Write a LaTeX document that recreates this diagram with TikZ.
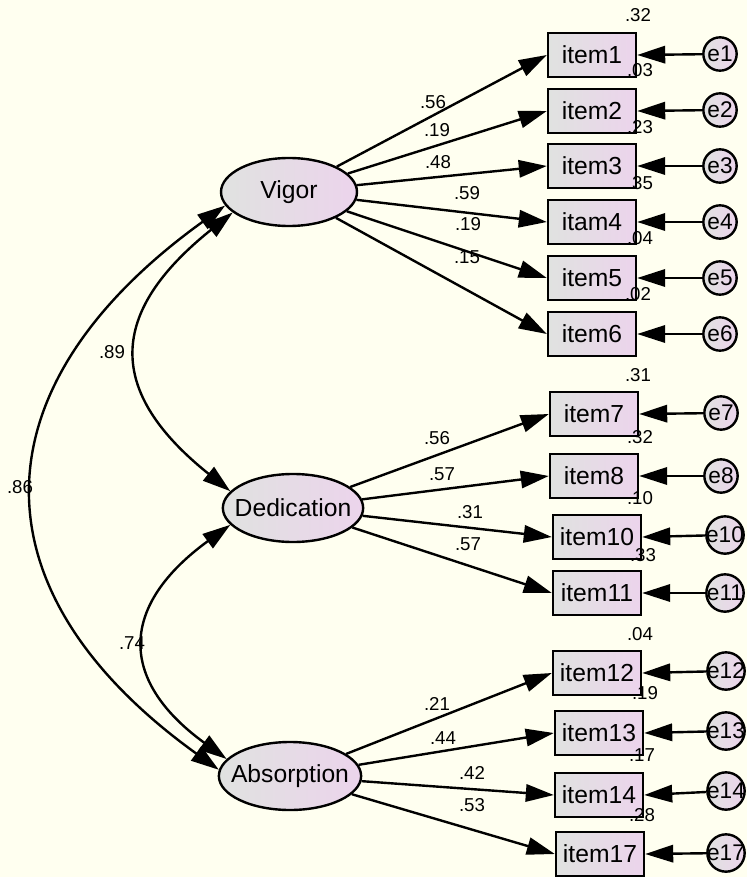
\documentclass[tikz,border=0pt]{standalone}
\usepackage{fontspec}
\setmainfont{Liberation Sans}
\usetikzlibrary{arrows.meta,shapes.geometric}

\definecolor{bgcol}{HTML}{FFFFF0}
\definecolor{shadeL}{HTML}{E0E2E0}
\definecolor{shadeR}{HTML}{ECD4EC}

\begin{document}
\begin{tikzpicture}[x=0.75pt, y=-0.75pt,
    lat/.style={draw, ellipse, line width=1.8pt, left color=shadeL, right color=shadeR, minimum width=102pt, minimum height=51pt, inner xsep=-6.5pt, inner ysep=0pt, font=\fontsize{18.5}{20}\selectfont},
    obs/.style={draw, rectangle, line width=1.8pt, left color=shadeL, right color=shadeR, minimum width=66pt, minimum height=33pt, inner sep=2pt, font=\fontsize{18.5}{20}\selectfont},
    err/.style={draw, circle, line width=1.8pt, left color=shadeL, right color=shadeR, minimum size=25pt, inner sep=-3pt, font=\fontsize{17}{18}\selectfont},
    errw/.style={err, minimum size=28pt},
    num/.style={inner sep=0pt, font=\fontsize{14}{16}\selectfont},
    arr/.style={-{Triangle[length=21pt, width=13pt]}, line width=1.8pt},
    cov/.style={{Triangle[length=21pt, width=13pt]}-{Triangle[length=21pt, width=13pt]}, line width=1.8pt}
]
\path[use as bounding box, fill=bgcol] (0,0) rectangle (747,877);

% latent factors
\node[lat] (vigor) at (289,192) {Vigor};
\node[lat] (dedication) at (293,508) {Dedication};
\node[lat] (absorption) at (290,776) {Absorption};

% observed items
\node[obs] (i1) at (592,55) {item1};
\node[obs] (i2) at (592,111) {item2};
\node[obs] (i3) at (592,166) {item3};
\node[obs] (i4) at (592,222) {itam4};
\node[obs] (i5) at (592,278) {item5};
\node[obs] (i6) at (592,334) {item6};
\node[obs] (i7) at (594,414) {item7};
\node[obs] (i8) at (594,476) {item8};
\node[obs] (i10) at (597,537) {item10};
\node[obs] (i11) at (597,593) {item11};
\node[obs] (i12) at (597,673) {item12};
\node[obs] (i13) at (599,733) {item13};
\node[obs] (i14) at (599,795) {item14};
\node[obs] (i17) at (600,854) {item17};

% error terms
\node[err] (e1) at (720,54) {e1};
\node[err] (e2) at (720,110) {e2};
\node[err] (e3) at (720,166) {e3};
\node[err] (e4) at (720,222) {e4};
\node[err] (e5) at (720,278) {e5};
\node[err] (e6) at (720,334) {e6};
\node[err] (e7) at (721,413) {e7};
\node[err] (e8) at (721,476) {e8};
\node[errw] (e10) at (725,535) {e10};
\node[errw] (e11) at (725,593) {e11};
\node[errw] (e12) at (726,671) {e12};
\node[errw] (e13) at (726,731) {e13};
\node[errw] (e14) at (726,791) {e14};
\node[errw] (e17) at (726,853) {e17};

% loadings
\draw[arr] (vigor) -- (i1.west);
\draw[arr] (vigor) -- (i2.west);
\draw[arr] (vigor) -- (i3.west);
\draw[arr] (vigor) -- (i4.west);
\draw[arr] (vigor) -- (i5.west);
\draw[arr] (vigor) -- (i6.west);
\draw[arr] (dedication) -- (i7.west);
\draw[arr] (dedication) -- (i8.west);
\draw[arr] (dedication) -- (i10.west);
\draw[arr] (dedication) -- (i11.west);
\draw[arr] (absorption) -- (i12.west);
\draw[arr] (absorption) -- (i13.west);
\draw[arr] (absorption) -- (i14.west);
\draw[arr] (absorption) -- (i17.west);

% errors to items
\draw[arr] (e1) -- (i1.east);
\draw[arr] (e2) -- (i2.east);
\draw[arr] (e3) -- (i3.east);
\draw[arr] (e4) -- (i4.east);
\draw[arr] (e5) -- (i5.east);
\draw[arr] (e6) -- (i6.east);
\draw[arr] (e7) -- (i7.east);
\draw[arr] (e8) -- (i8.east);
\draw[arr] (e10) -- (i10.east);
\draw[arr] (e11) -- (i11.east);
\draw[arr] (e12) -- (i12.east);
\draw[arr] (e13) -- (i13.east);
\draw[arr] (e14) -- (i14.east);
\draw[arr] (e17) -- (i17.east);

% covariances
\draw[cov] (vigor.200) .. controls +(-125,100) and +(-125,-100) .. (dedication.165);
\draw[cov] (vigor.192) .. controls +(-250,180) and +(-250,-180) .. (absorption.175);
\draw[cov] (dedication.195) .. controls +(-110,80) and +(-110,-80) .. (absorption.165);
\node[num] (c89) at (112,352) {.89};
\node[num] (c86) at (20,487) {.86};
\node[num] (c74) at (132,643) {.74};

% loading values
\node[num] (l1) at (433,102) {.56};
\node[num] (l2) at (437,130) {.19};
\node[num] (l3) at (438,162) {.48};
\node[num] (l4) at (467,193) {.59};
\node[num] (l5) at (468,224) {.19};
\node[num] (l6) at (467,257) {.15};
\node[num] (l7) at (437,438) {.56};
\node[num] (l8) at (442,474) {.57};
\node[num] (l10) at (470,512) {.31};
\node[num] (l11) at (468,544) {.57};
\node[num] (l12) at (437,704) {.21};
\node[num] (l13) at (443,738) {.44};
\node[num] (l14) at (472,773) {.42};
\node[num] (l17) at (472,805) {.53};

% squared multiple correlations
\node[num] (r1) at (638,15) {.32};
\node[num] (r2) at (640,70) {.03};
\node[num] (r3) at (640,127) {.23};
\node[num] (r4) at (640,183) {.35};
\node[num] (r5) at (640,238) {.04};
\node[num] (r6) at (638,294) {.02};
\node[num] (r7) at (638,375) {.31};
\node[num] (r8) at (640,437) {.32};
\node[num] (r10) at (640,498) {.10};
\node[num] (r11) at (643,555) {.33};
\node[num] (r12) at (640,634) {.04};
\node[num] (r13) at (645,693) {.19};
\node[num] (r14) at (642,755) {.17};
\node[num] (r17) at (642,815) {.28};
\end{tikzpicture}
\end{document}
